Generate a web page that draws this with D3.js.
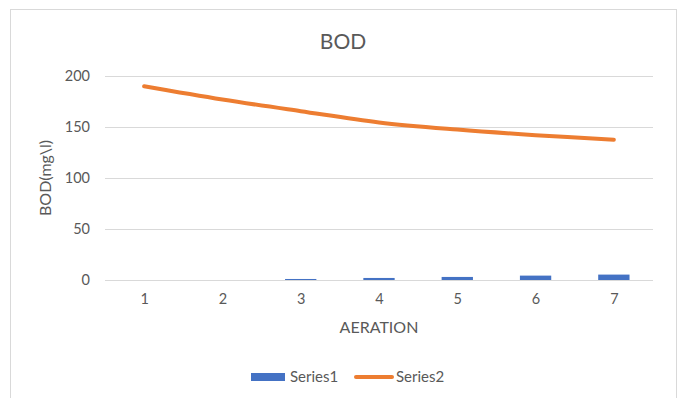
<!DOCTYPE html>
<html>
<head>
<meta charset="utf-8">
<script src="https://cdn.jsdelivr.net/npm/d3@7"></script>
<style>
  html, body { margin: 0; padding: 0; background: #fff; }
  svg { display: block; font-family: Lato, "Open Sans", sans-serif; }
</style>
</head>
<body>
<svg id="chart" width="680" height="398"></svg>
<script>
// Aeration steps and BOD readings
const categories = ["1", "2", "3", "4", "5", "6", "7"];
const series1 = [0, 0, 1, 2, 3, 4.3, 5.3];
const series2 = [190, 177, 165.5, 154.5, 147.5, 142, 137.5];
const yTicks = [0, 50, 100, 150, 200];

const svg = d3.select("#chart");
const plot = { left: 105, right: 653, top: 76, bottom: 280 };
const textColor = "#595959";
const gridColor = "#d9d9d9";

// chart frame
svg.append("rect")
  .attr("x", 10.5).attr("y", 9.5)
  .attr("width", 666).attr("height", 400)
  .attr("fill", "#fff").attr("stroke", gridColor).attr("stroke-width", 1);

const x = d3.scaleBand().domain(categories).range([plot.left, plot.right]).paddingInner(0.6).paddingOuter(0.3);
const xPoint = d3.scalePoint().domain(categories).range([plot.left, plot.right]).padding(0.5);
const y = d3.scaleLinear().domain([0, 200]).range([plot.bottom, plot.top]);

// gridlines
const yAxis = d3.axisLeft(y).tickValues(yTicks).tickSize(-(plot.right - plot.left)).tickPadding(15);
const gy = svg.append("g").attr("transform", `translate(${plot.left},0)`).call(yAxis);
gy.select(".domain").remove();
gy.selectAll(".tick line").attr("stroke", gridColor).attr("stroke-width", 1);
gy.selectAll(".tick text").attr("fill", textColor).attr("font-size", 14.5).attr("font-family", "Lato, sans-serif");

// x axis
const xAxis = d3.axisBottom(xPoint).tickSize(0).tickPadding(14);
const gx = svg.append("g").attr("transform", `translate(0,${plot.bottom})`).call(xAxis);
gx.select(".domain").remove();
gx.selectAll(".tick text").attr("fill", textColor).attr("font-size", 14.5).attr("font-family", "Lato, sans-serif");

// bars
svg.append("g").selectAll("rect").data(series1).join("rect")
  .attr("x", (d, i) => xPoint(categories[i]) - x.bandwidth() / 2)
  .attr("width", x.bandwidth())
  .attr("y", d => y(d))
  .attr("height", d => y(0) - y(d))
  .attr("fill", "#4472c4");

// smoothed line
const line = d3.line()
  .x((d, i) => xPoint(categories[i]))
  .y(d => y(d))
  .curve(d3.curveCatmullRom.alpha(0.5));
svg.append("path").datum(series2)
  .attr("d", line)
  .attr("fill", "none")
  .attr("stroke", "#ed7d31")
  .attr("stroke-width", 4)
  .attr("stroke-linecap", "round");

// title
svg.append("text").attr("x", 343).attr("y", 49)
  .attr("text-anchor", "middle").attr("fill", textColor)
  .attr("font-size", 21).text("BOD");

// axis titles
svg.append("text").attr("transform", `translate(51,178) rotate(-90)`)
  .attr("text-anchor", "middle").attr("fill", textColor)
  .attr("font-size", 16).text("BOD(mg\\l)");
svg.append("text").attr("x", (plot.left + plot.right) / 2).attr("y", 333)
  .attr("text-anchor", "middle").attr("fill", textColor)
  .attr("font-size", 16).text("AERATION");

// legend
const lg = svg.append("g");
lg.append("rect").attr("x", 251).attr("y", 373).attr("width", 34).attr("height", 8).attr("fill", "#4472c4");
lg.append("text").attr("x", 290).attr("y", 382).attr("fill", textColor).attr("font-size", 15).text("Series1");
lg.append("line").attr("x1", 356).attr("x2", 392).attr("y1", 377).attr("y2", 377)
  .attr("stroke", "#ed7d31").attr("stroke-width", 4).attr("stroke-linecap", "round");
lg.append("text").attr("x", 396).attr("y", 382).attr("fill", textColor).attr("font-size", 15).text("Series2");
</script>
</body>
</html>
